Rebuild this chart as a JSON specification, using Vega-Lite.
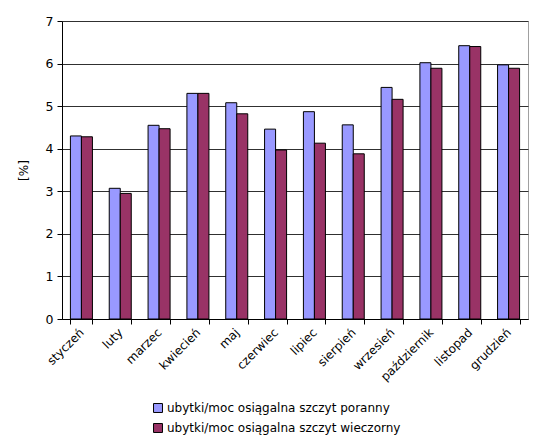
{
  "$schema": "https://vega.github.io/schema/vega-lite/v6.json",
  "autosize": {"type": "none"},
  "width": 466,
  "height": 298,
  "padding": {"left": 62, "top": 21, "right": 8, "bottom": 123},
  "background": "white",
  "config": {
    "font": "DejaVu Sans",
    "view": {"stroke": "#a0a0a0", "strokeWidth": 1}
  },
  "data": {
    "values": [
      {"miesiac": "styczeń", "seria": "ubytki/moc osiągalna szczyt poranny", "v": 4.30},
      {"miesiac": "styczeń", "seria": "ubytki/moc osiągalna szczyt wieczorny", "v": 4.28},
      {"miesiac": "luty", "seria": "ubytki/moc osiągalna szczyt poranny", "v": 3.07},
      {"miesiac": "luty", "seria": "ubytki/moc osiągalna szczyt wieczorny", "v": 2.95},
      {"miesiac": "marzec", "seria": "ubytki/moc osiągalna szczyt poranny", "v": 4.55},
      {"miesiac": "marzec", "seria": "ubytki/moc osiągalna szczyt wieczorny", "v": 4.47},
      {"miesiac": "kwiecień", "seria": "ubytki/moc osiągalna szczyt poranny", "v": 5.30},
      {"miesiac": "kwiecień", "seria": "ubytki/moc osiągalna szczyt wieczorny", "v": 5.30},
      {"miesiac": "maj", "seria": "ubytki/moc osiągalna szczyt poranny", "v": 5.08},
      {"miesiac": "maj", "seria": "ubytki/moc osiągalna szczyt wieczorny", "v": 4.82},
      {"miesiac": "czerwiec", "seria": "ubytki/moc osiągalna szczyt poranny", "v": 4.46},
      {"miesiac": "czerwiec", "seria": "ubytki/moc osiągalna szczyt wieczorny", "v": 3.97},
      {"miesiac": "lipiec", "seria": "ubytki/moc osiągalna szczyt poranny", "v": 4.87},
      {"miesiac": "lipiec", "seria": "ubytki/moc osiągalna szczyt wieczorny", "v": 4.13},
      {"miesiac": "sierpień", "seria": "ubytki/moc osiągalna szczyt poranny", "v": 4.56},
      {"miesiac": "sierpień", "seria": "ubytki/moc osiągalna szczyt wieczorny", "v": 3.88},
      {"miesiac": "wrzesień", "seria": "ubytki/moc osiągalna szczyt poranny", "v": 5.44},
      {"miesiac": "wrzesień", "seria": "ubytki/moc osiągalna szczyt wieczorny", "v": 5.16},
      {"miesiac": "październik", "seria": "ubytki/moc osiągalna szczyt poranny", "v": 6.02},
      {"miesiac": "październik", "seria": "ubytki/moc osiągalna szczyt wieczorny", "v": 5.89},
      {"miesiac": "listopad", "seria": "ubytki/moc osiągalna szczyt poranny", "v": 6.42},
      {"miesiac": "listopad", "seria": "ubytki/moc osiągalna szczyt wieczorny", "v": 6.40},
      {"miesiac": "grudzień", "seria": "ubytki/moc osiągalna szczyt poranny", "v": 5.97},
      {"miesiac": "grudzień", "seria": "ubytki/moc osiągalna szczyt wieczorny", "v": 5.89}
    ]
  },
  "mark": {"type": "bar", "stroke": "black", "strokeWidth": 1},
  "encoding": {
    "x": {
      "field": "miesiac",
      "type": "nominal",
      "sort": null,
      "scale": {"paddingInner": 0.433, "paddingOuter": 0.2165},
      "axis": {
        "title": null,
        "labelAngle": -45,
        "labelAlign": "right",
        "labelBaseline": "middle",
        "labelFontSize": 12,
        "labelColor": "black",
        "labelPadding": 6,
        "labelLimit": 0,
        "tickBand": "extent",
        "tickColor": "black",
        "tickSize": 5,
        "domainColor": "black",
        "grid": false
      }
    },
    "xOffset": {"field": "seria", "type": "nominal"},
    "y": {
      "field": "v",
      "type": "quantitative",
      "scale": {"domain": [0, 7], "nice": false},
      "axis": {
        "title": "[%]",
        "titleFontWeight": "normal",
        "titleFontSize": 12,
        "titleColor": "black",
        "titlePadding": 15,
        "values": [0, 1, 2, 3, 4, 5, 6, 7],
        "labelFontSize": 12.5,
        "labelColor": "black",
        "labelPadding": 4,
        "tickColor": "black",
        "tickSize": 5,
        "domainColor": "black",
        "gridColor": "#303030",
        "gridOpacity": 1
      }
    },
    "color": {
      "field": "seria",
      "type": "nominal",
      "scale": {"range": ["#9999FF", "#993366"]},
      "legend": {
        "title": null,
        "orient": "none",
        "direction": "vertical",
        "legendX": 90,
        "legendY": 381,
        "symbolType": "square",
        "symbolSize": 80,
        "symbolStrokeColor": "black",
        "symbolStrokeWidth": 1,
        "symbolOpacity": 1,
        "labelFontSize": 12,
        "labelLimit": 0,
        "labelColor": "black",
        "labelOffset": 3,
        "rowPadding": 6
      }
    }
  }
}
